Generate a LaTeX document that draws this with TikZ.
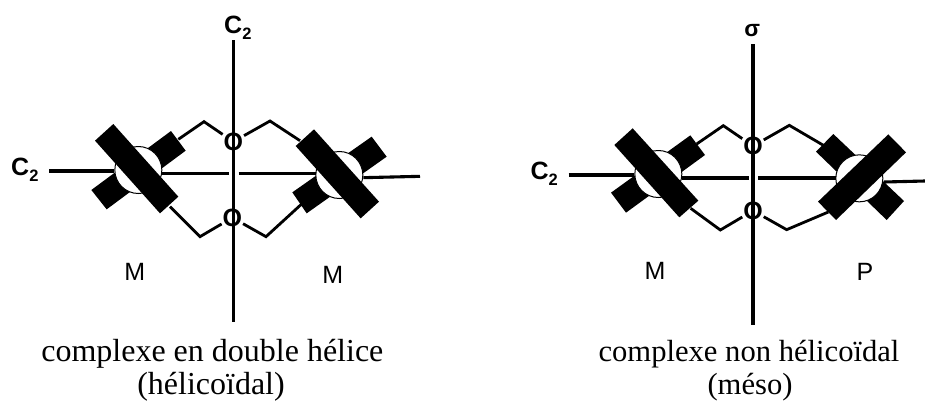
\documentclass[tikz,border=0pt]{standalone}
\usepackage{fontspec}
\setmainfont{Liberation Serif}
\newfontfamily\arialf{Liberation Sans}
\newcommand{\cdeux}{C\raisebox{-6pt}{\fontsize{16.5}{16.5}\selectfont 2}}
\tikzset{
  axisline/.style={line width=3.1pt,line cap=butt},
  bond/.style={line width=2.8pt,line join=miter},
  hub/.style={circle,draw=black,line width=1pt,fill=white,minimum size=47pt,inner sep=0pt},
  oxy/.style={font=\arialf\bfseries\fontsize{25}{25}\selectfont,inner sep=0pt,outer sep=1pt},
  sym/.style={font=\arialf\bfseries\fontsize{25}{25}\selectfont,inner sep=0pt,anchor=base west},
  sig/.style={font=\arialf\bfseries\fontsize{23}{23}\selectfont,inner sep=0pt},
  chir/.style={font=\arialf\fontsize{25}{25}\selectfont,inner sep=0pt},
  legend/.style={font=\fontsize{30.6}{34}\selectfont,inner sep=0pt,anchor=base},
  legendb/.style={font=\fontsize{32}{34}\selectfont,inner sep=0pt,anchor=base}
}
\begin{document}
\begin{tikzpicture}[x=0.33333pt,y=-0.33333pt]
\useasboundingbox (0,0) rectangle (2775,1203);
% ---- left complex
\fill (513,393) -- (557,452) -- (320,628) -- (274,570) -- cycle;
\fill (1115,410) -- (1160,470) -- (920,640) -- (877,577) -- cycle;
\node[hub] (h1) at (415,510) {};
\node[hub] (h2) at (1018,525) {};
\node[oxy] (o1) at (700,425) {O};
\node[oxy] (o2) at (697,653) {O};
\coordinate (t1) at (700,120); \coordinate (b1) at (700,965);
\draw[axisline] (t1) -- (b1);
\coordinate (a1) at (148,513); \coordinate (a2) at (342,513);
\coordinate (a3) at (486,521); \coordinate (a4) at (688,521);
\coordinate (a5) at (716,521); \coordinate (a6) at (948,521);
\coordinate (a7) at (1090,533); \coordinate (a8) at (1260,529);
\draw[axisline] (a1) -- (a2);
\draw[axisline] (a3) -- (a4);
\draw[axisline] (a5) -- (a6);
\draw[axisline] (a7) -- (a8);
\coordinate (p1) at (535,418); \coordinate (p2) at (612,365);
\coordinate (p3) at (810,363); \coordinate (p4) at (900,422);
\coordinate (p5) at (510,620); \coordinate (p6) at (600,710);
\coordinate (p7) at (798,710); \coordinate (p8) at (905,612);
\draw[bond] (p1) -- (p2) -- (o1);
\draw[bond] (o1) -- (p3) -- (p4);
\draw[bond] (p5) -- (p6) -- (o2);
\draw[bond] (o2) -- (p7) -- (p8);
\fill (340,372) -- (535,590) -- (480,640) -- (285,422) -- cycle;
\fill (942,388) -- (1137,605) -- (1082,655) -- (887,438) -- cycle;
\node[sym] (c1) at (672,100) {\cdeux};
\node[sym] (c2) at (33,527) {\cdeux};
\node[chir] (m1) at (404,817) {M};
\node[chir] (m2) at (998,824) {M};
\node[legendb] (l1) at (637,1083) {complexe en double hélice};
\node[legendb] (l1b) at (633,1182) {(hélicoïdal)};
% ---- right complex
\begin{scope}[shift={(1560,0)}]
\fill (511,406) -- (555,465) -- (318,638) -- (273,578) -- cycle;
\fill (940,402) -- (1152,603) -- (1100,660) -- (888,455) -- cycle;
\node[hub] (h3) at (415,522) {};
\node[hub] (h4) at (1018,535) {};
\node[oxy] (o3) at (699,438) {O};
\node[oxy] (o4) at (699,632) {O};
\coordinate (t2) at (699,133); \coordinate (b2) at (699,975);
\draw[axisline] (t2) -- (b2);
\coordinate (d1) at (146,525); \coordinate (d2) at (342,525);
\coordinate (d3) at (486,534); \coordinate (d4) at (686,534);
\coordinate (d5) at (714,534); \coordinate (d6) at (948,534);
\coordinate (d7) at (1092,546); \coordinate (d8) at (1215,543);
\draw[axisline] (d1) -- (d2);
\draw[axisline] (d3) -- (d4);
\draw[axisline] (d5) -- (d6);
\draw[axisline] (d7) -- (d8);
\coordinate (q1) at (530,432); \coordinate (q2) at (610,377);
\coordinate (q3) at (808,376); \coordinate (q4) at (912,437);
\coordinate (q5) at (512,625); \coordinate (q6) at (601,690);
\coordinate (q7) at (800,689); \coordinate (q8) at (925,636);
\draw[bond] (q1) -- (q2) -- (o3);
\draw[bond] (o3) -- (q3) -- (q4);
\draw[bond] (q5) -- (q6) -- (o4);
\draw[bond] (o4) -- (q7) -- (q8);
\fill (338,385) -- (535,602) -- (478,652) -- (283,435) -- cycle;
\fill (1105,403) -- (1158,457) -- (948,660) -- (894,605) -- cycle;
\node[sig] (s1) at (697,92) {σ};
\node[sym] (c3) at (31,538) {\cdeux};
\node[chir] (m3) at (405,812) {M};
\node[chir] (p9) at (1035,815) {P};
\node[legend] (l2) at (687,1083) {complexe non hélicoïdal};
\node[legend] (l2b) at (690,1182) {(méso)};
\end{scope}
\end{tikzpicture}
\end{document}
